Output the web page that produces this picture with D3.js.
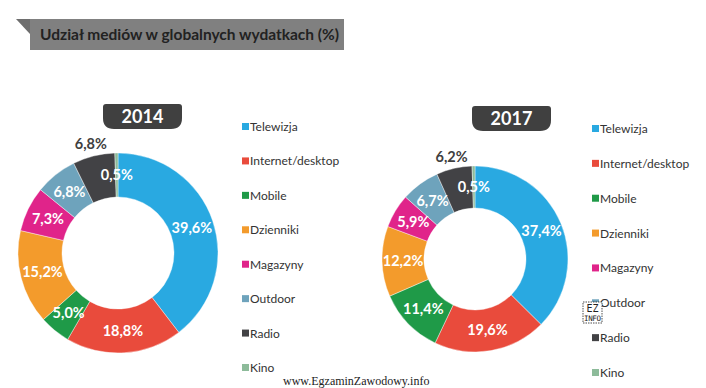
<!DOCTYPE html>
<html>
<head>
<meta charset="utf-8">
<script src="https://cdn.jsdelivr.net/npm/d3@7"></script>
<style>
  body { margin: 0; background: #fff; }
  svg { display: block; }
</style>
</head>
<body>
<script>
// media categories and shares (%)
var categories = ["Telewizja", "Internet/desktop", "Mobile", "Dzienniki", "Magazyny", "Outdoor", "Radio", "Kino"];
var colors = ["#29a9e1", "#e94b3c", "#1f9a48", "#f39b2c", "#e0248a", "#6ea3bc", "#424245", "#8dbb9a"];
var values2014 = [39.6, 18.8, 5.0, 15.2, 7.3, 6.8, 6.8, 0.5];
var values2017 = [37.4, 19.6, 11.4, 12.2, 5.9, 6.7, 6.2, 0.5];
var years = ["2014", "2017"];

var w = 706, h = 388;
var svg = d3.select("body").append("svg")
	.attr("width", w)
	.attr("height", h);

// title banner
svg.append("path")
	.attr("d", "M16,19 L30,19 L30,34 Z")
	.attr("fill", "#6e6e6e");
svg.append("rect")
	.attr("x", 30).attr("y", 19)
	.attr("width", 314).attr("height", 31)
	.attr("fill", "#808080");
svg.append("text")
	.attr("x", 40).attr("y", 40)
	.attr("font-family", "Lato")
	.attr("font-weight", "bold")
	.attr("font-size", 15.5)
	.attr("fill", "#222")
	.text("Udział mediów w globalnych wydatkach (%)");

function fmt(v) {
	return v.toFixed(1).replace(".", ",") + "%";
}

function drawDonut(values, year, cx, cy, rOut, rIn, badge, legend) {
	var data = categories.map(function(c, i) { return {name: c, value: values[i], color: colors[i]}; });
	var pie = d3.pie().sort(null).value(function(d) { return d.value; });
	var arc = d3.arc().innerRadius(rIn).outerRadius(rOut);
	var outerArc = d3.arc().innerRadius(rOut * 1.12).outerRadius(rOut * 1.12);
	var arcs = pie(data);

	var g = svg.append("g").attr("transform", "translate(" + cx + "," + cy + ")");
	g.selectAll("path")
		.data(arcs)
		.enter()
		.append("path")
		.attr("d", arc)
		.attr("fill", function(d) { return d.data.color; })
		.attr("stroke", "#fff")
		.attr("stroke-width", 0.4);

	g.selectAll("text.lbl")
		.data(arcs)
		.enter()
		.append("text")
		.attr("class", "lbl")
		.attr("transform", function(d) {
			var p = d.data.name == "Radio" ? outerArc.centroid(d) : arc.centroid(d);
			return "translate(" + p[0] + "," + (p[1] + 5) + ")";
		})
		.attr("text-anchor", "middle")
		.attr("font-family", "Lato")
		.attr("font-weight", "bold")
		.attr("font-size", 14.5)
		.attr("fill", function(d) { return d.data.name == "Radio" ? "#404040" : "#fff"; })
		.text(function(d) { return fmt(d.data.value); });

	// year badge
	var bx = badge[0], by = badge[1], bw = 79, bh = 25, r = 11;
	svg.append("path")
		.attr("d", "M" + (bx + 3) + "," + by + " L" + (bx + bw - 3) + "," + by +
			" Q" + (bx + bw) + "," + by + " " + (bx + bw) + "," + (by + 3) +
			" L" + (bx + bw) + "," + (by + bh - r) +
			" Q" + (bx + bw) + "," + (by + bh) + " " + (bx + bw - r) + "," + (by + bh) +
			" L" + (bx + r) + "," + (by + bh) +
			" Q" + bx + "," + (by + bh) + " " + bx + "," + (by + bh - r) +
			" L" + bx + "," + (by + 3) +
			" Q" + bx + "," + by + " " + (bx + 3) + "," + by + " Z")
		.attr("fill", "#404040");
	svg.append("text")
		.attr("x", bx + bw / 2).attr("y", by + 19)
		.attr("text-anchor", "middle")
		.attr("font-family", "Lato")
		.attr("font-weight", "bold")
		.attr("font-size", 18)
		.attr("fill", "#fff")
		.text(year);

	// legend
	var y = d3.scalePoint().domain(categories).range([legend[1], legend[2]]);
	var lg = svg.append("g");
	var items = lg.selectAll("g")
		.data(data)
		.enter()
		.append("g")
		.attr("transform", function(d) { return "translate(" + legend[0] + "," + y(d.name) + ")"; });
	items.append("rect")
		.attr("x", 0).attr("y", -4)
		.attr("width", 7).attr("height", 7)
		.attr("fill", function(d) { return d.color; });
	items.append("text")
		.attr("x", 8).attr("y", 4)
		.attr("font-family", "Lato")
		.attr("font-size", 12)
		.attr("fill", "#333")
		.text(function(d) { return d.name; });
}

drawDonut(values2014, years[0], 118, 253, 100, 56, [103, 104], [242, 127, 368]);
drawDonut(values2017, years[1], 475, 259, 93, 51, [472, 106], [592, 129, 373]);

// watermark
svg.append("text")
	.attr("x", 283).attr("y", 385)
	.attr("font-family", "Liberation Serif")
	.attr("font-size", 12)
	.attr("fill", "#222")
	.text("www.EgzaminZawodowy.info");

// small logo
var logo = svg.append("g").attr("transform", "translate(583,302)");
logo.append("rect")
	.attr("width", 19).attr("height", 21)
	.attr("fill", "#fff")
	.attr("stroke", "#222")
	.attr("stroke-width", 0.8)
	.attr("stroke-dasharray", "1.5,1");
logo.append("text")
	.attr("x", 9.5).attr("y", 9.5)
	.attr("text-anchor", "middle")
	.attr("font-family", "DejaVu Sans Mono")
	.attr("font-size", 10)
	.attr("fill", "#222")
	.text("EZ");
logo.append("text")
	.attr("x", 9.5).attr("y", 19)
	.attr("text-anchor", "middle")
	.attr("font-family", "DejaVu Sans Mono")
	.attr("font-size", 7.5)
	.attr("textLength", 17)
	.attr("fill", "#222")
	.text("INFO");
</script>
</body>
</html>
